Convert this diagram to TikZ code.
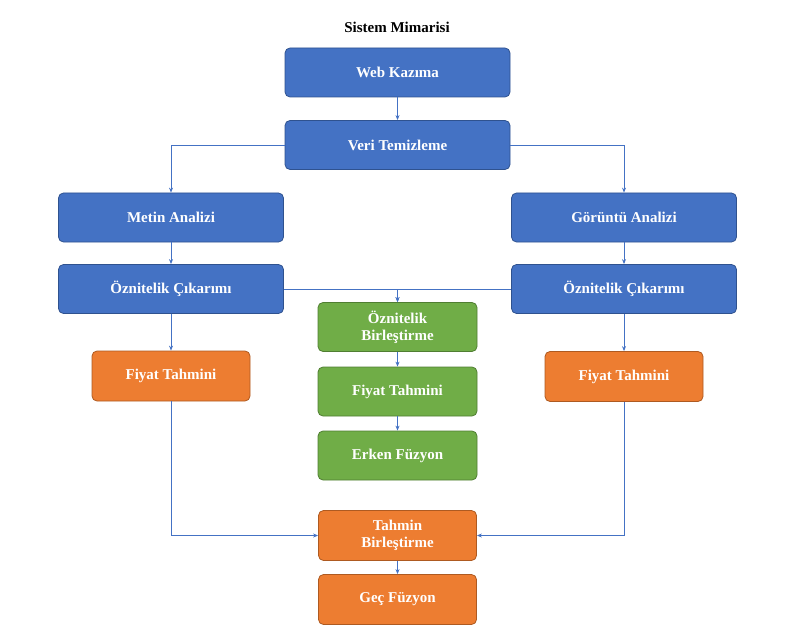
\documentclass[tikz,border=0pt]{standalone}
\usepackage{fontspec}
\setmainfont{Liberation Serif}
\usetikzlibrary{arrows.meta}
\definecolor{bl}{HTML}{4472C4}
\definecolor{blb}{HTML}{2F528F}
\definecolor{gr}{HTML}{70AD47}
\definecolor{grb}{HTML}{507E32}
\definecolor{or}{HTML}{ED7D31}
\definecolor{orb}{HTML}{AE5A21}
\begin{document}
\begin{tikzpicture}[x=1pt,y=-1pt,
  box/.style={rounded corners=5pt,line width=0.8pt,text=white,font=\fontsize{15}{17}\selectfont\bfseries,align=center,inner sep=0pt},
  B/.style={box,fill=bl,draw=blb,minimum width=225pt,minimum height=49pt},
  G/.style={box,fill=gr,draw=grb,minimum width=159pt,minimum height=49pt},
  O/.style={box,fill=or,draw=orb,minimum width=158pt,minimum height=50pt},
  ar/.style={draw=bl,line width=0.8pt,-{Stealth[length=5pt,width=4pt]}}]
\useasboundingbox (0,0) rectangle (794,636);
\node[font=\fontsize{15}{17}\selectfont\bfseries] (t) at (397,27) {Sistem Mimarisi};
\node[B] (web) at (397.5,72.5) {Web Kazıma};
\node[B] (veri) at (397.5,145) {Veri Temizleme};
\node[B] (met) at (171,217.5) {Metin Analizi};
\node[B] (gor) at (624,217.5) {Görüntü Analizi};
\node[B] (ozl) at (171,289) {Öznitelik Çıkarımı};
\node[B] (ozr) at (624,289) {Öznitelik Çıkarımı};
\node[G] (ob) at (397.5,327) {Öznitelik\\Birleştirme};
\node[G] (fm) at (397.5,391.5) {Fiyat Tahmini};
\node[G] (ef) at (397.5,455.5) {Erken Füzyon};
\node[O] (fl) at (171,376) {Fiyat Tahmini};
\node[O] (fr) at (624,376.5) {Fiyat Tahmini};
\node[O] (tb) at (397.5,535.5) {Tahmin\\Birleştirme};
\node[O] (gf) at (397.5,599.5) {Geç Füzyon};
\draw[ar] (web) -- (veri);
\draw[ar] (veri.west) -| (met.north);
\draw[ar] (veri.east) -| (gor.north);
\draw[ar] (met) -- (ozl);
\draw[ar] (gor) -- (ozr);
\draw[ar] (ozl.east) -| (ob.north);
\draw[ar] (ozr.west) -| (ob.north);
\draw[ar] (ozl) -- (fl);
\draw[ar] (ozr) -- (fr);
\draw[ar] (ob) -- (fm);
\draw[ar] (fm) -- (ef);
\draw[ar] (fl.south) |- (tb.west);
\draw[ar] (fr.south) |- (tb.east);
\draw[ar] (tb) -- (gf);
\end{tikzpicture}
\end{document}
